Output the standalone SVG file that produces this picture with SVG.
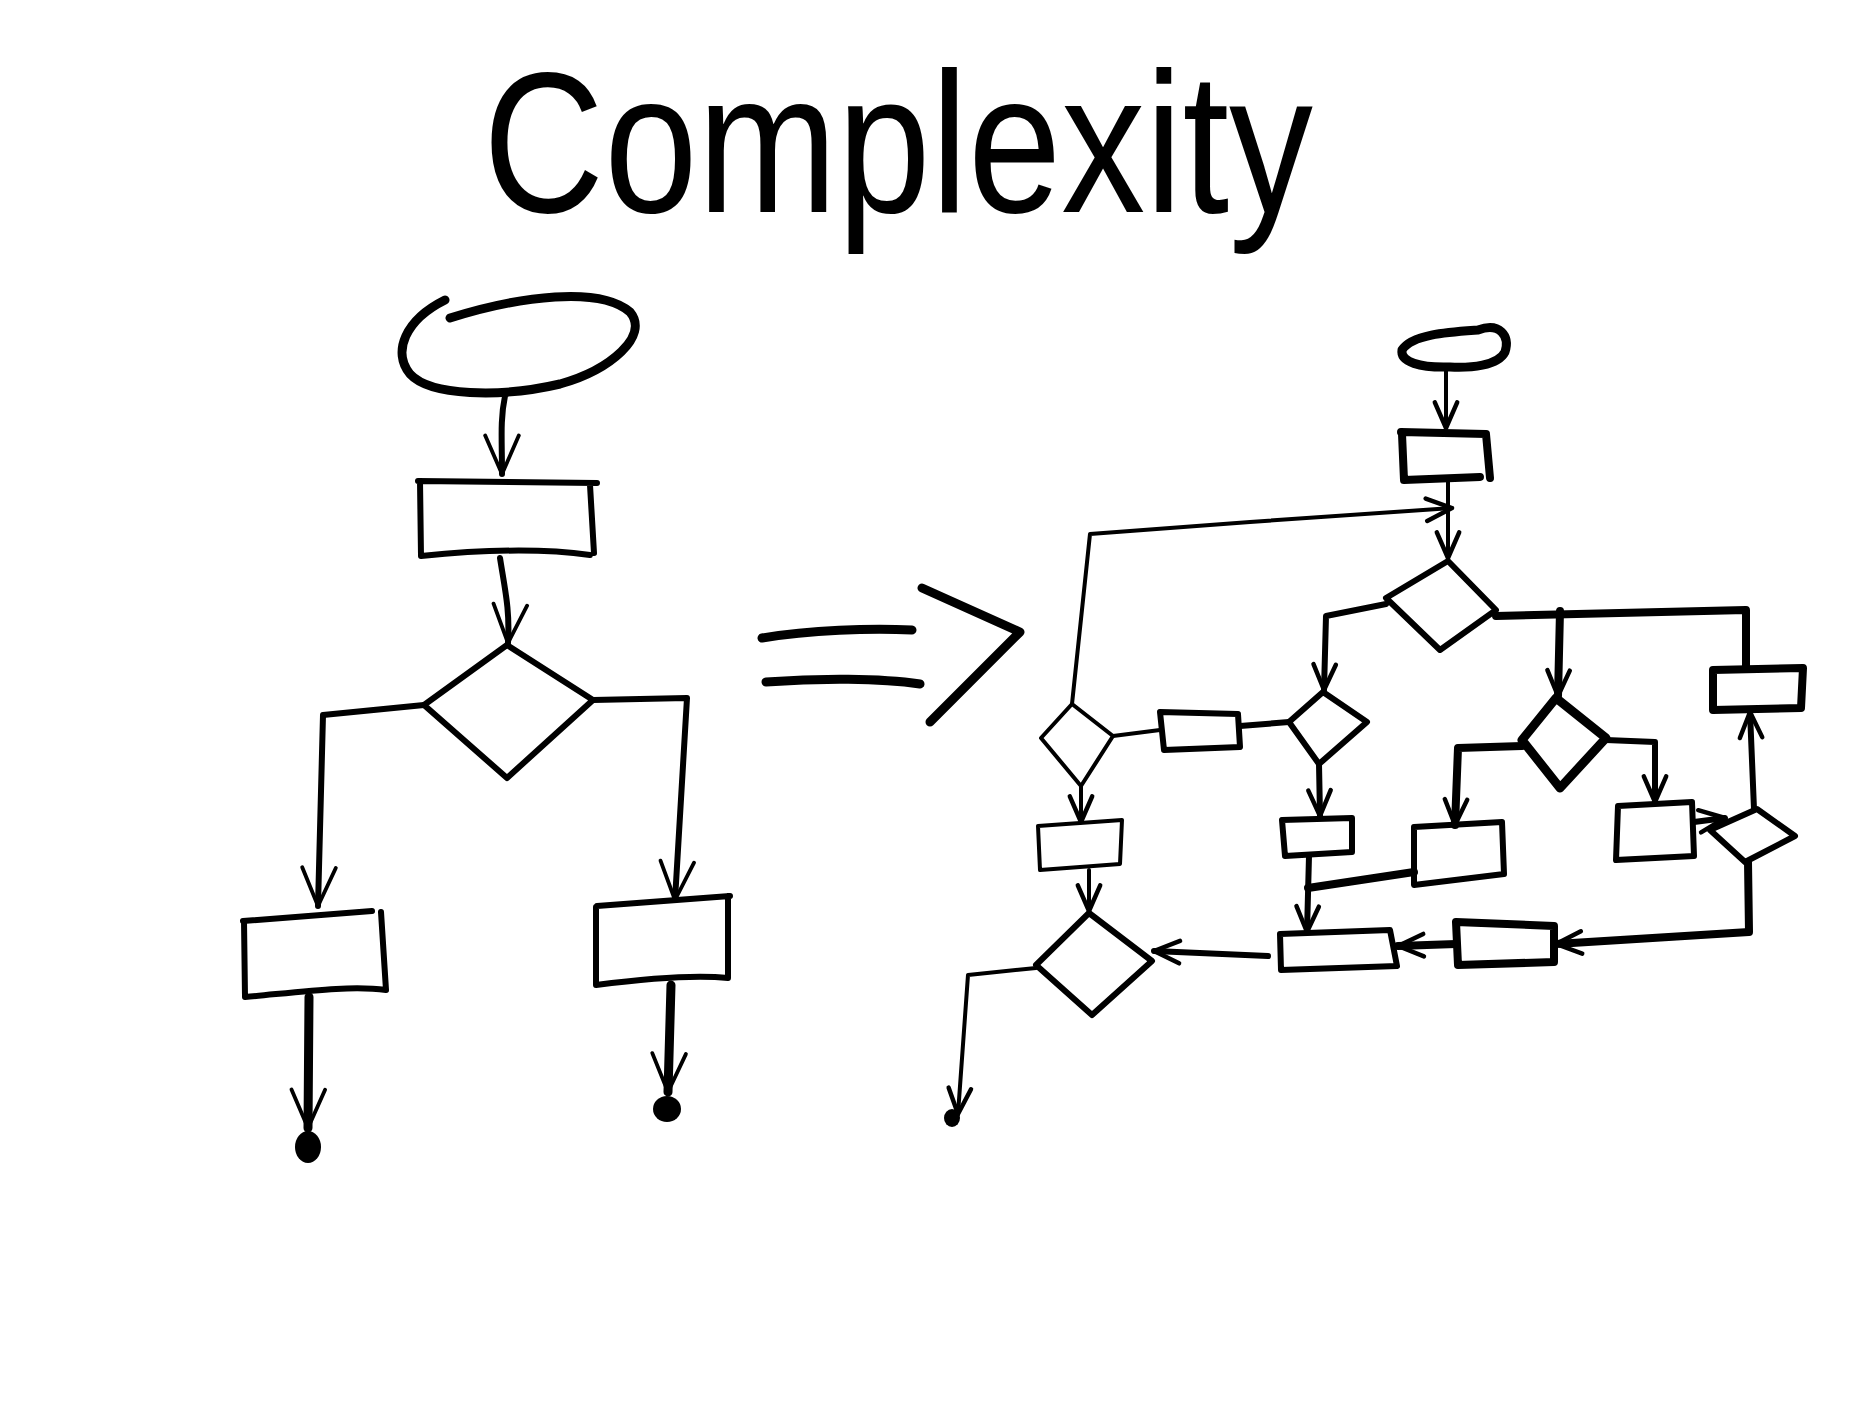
<svg xmlns="http://www.w3.org/2000/svg" width="1872" height="1404" viewBox="0 0 1872 1404">
<style>
.s{fill:none;stroke:#000;stroke-linecap:round;stroke-linejoin:round}
.n{fill:none;stroke:#000;stroke-width:6;stroke-linecap:round;stroke-linejoin:round}
.t{fill:none;stroke:#000;stroke-width:9;stroke-linecap:round;stroke-linejoin:round}
.c{fill:none;stroke:#000;stroke-width:4;stroke-linecap:round;stroke-linejoin:round}
.ct{fill:none;stroke:#000;stroke-width:8;stroke-linecap:round;stroke-linejoin:round}
.dot{fill:#000}
.title{font-family:"Liberation Sans",Arial,sans-serif;font-size:200px;fill:#000}
</style>
<defs>
<marker id="aL" viewBox="0 0 20 20" refX="18" refY="10" markerWidth="48" markerHeight="48" markerUnits="userSpaceOnUse" orient="auto">
<path d="M2,3 L18,10 L2,17" fill="none" stroke="#000" stroke-width="1.6" stroke-linecap="round" stroke-linejoin="round"/>
</marker>
<marker id="aS" viewBox="0 0 20 20" refX="18" refY="10" markerWidth="32" markerHeight="32" markerUnits="userSpaceOnUse" orient="auto">
<path d="M2,3 L18,10 L2,17" fill="none" stroke="#000" stroke-width="2.8" stroke-linecap="round" stroke-linejoin="round"/>
</marker>
</defs>
<rect width="1872" height="1404" fill="#fff"/>

<text class="title" x="483" y="212" textLength="830" lengthAdjust="spacingAndGlyphs">Complexity</text>

<!-- Left simple flowchart -->
<g id="L-start"><path class="t" d="M450,318 C520,296 600,286 630,312 C650,336 610,370 560,384 C500,398 430,396 410,374 C392,352 405,320 445,300"/></g>
<g id="L-proc1"><path class="n" d="M418,481 L597,483 M420,481 L421,556 M590,485 L594,553 M421,556 C480,550 540,548 590,555"/></g>
<g id="L-decision"><path class="n" d="M507,645 L424,705 L507,778 L593,700 Z"/></g>
<g id="L-proc2"><path class="n" d="M243,921 L372,911 M244,921 L245,997 M381,912 L386,990 M245,997 C300,992 350,985 386,990"/></g>
<g id="L-proc3"><path class="n" d="M597,906 L730,896 M596,907 L596,985 M728,896 L728,978 M596,985 C650,978 700,975 728,978"/></g>
<g id="L-end1"><ellipse class="dot" cx="308" cy="1147" rx="13" ry="16"/></g>
<g id="L-end2"><ellipse class="dot" cx="667" cy="1109" rx="14" ry="13"/></g>

<!-- Arrow "=>" -->
<g id="implies">
<path class="t" d="M762,638 C810,630 870,628 912,630"/>
<path class="t" d="M766,682 C820,678 880,678 920,684"/>
<path class="t" d="M922,588 L1020,632 L930,722"/>
</g>

<!-- Right complex flowchart -->
<g id="R-start"><path class="t" d="M1402,350 C1412,334 1450,332 1478,330 C1500,322 1510,336 1505,352 C1498,366 1470,368 1450,367 C1420,368 1400,362 1402,350 Z"/></g>
<g id="R-proc0"><path class="ct" d="M1401,432 L1486,434 M1402,434 L1404,480 M1486,434 L1490,478 M1404,480 L1480,477"/></g>
<g id="R-dec0"><path class="n" d="M1448,561 L1386,598 L1440,650 L1496,610 Z"/></g>
<g id="R-decA"><path class="c" d="M1072,704 L1041,738 L1081,786 L1113,736 Z"/></g>
<g id="R-procA"><path class="n" d="M1160,712 L1238,714 L1240,747 L1164,750 Z"/></g>
<g id="R-decB"><path class="n" d="M1323,692 L1289,722 L1319,764 L1367,722 Z"/></g>
<g id="R-procB"><path class="n" d="M1282,820 L1352,818 L1352,852 L1285,856 Z"/></g>
<g id="R-procL"><path class="c" d="M1038,826 L1122,820 L1120,864 L1040,870 Z"/></g>
<g id="R-decD"><path class="n" d="M1089,913 L1036,965 L1092,1015 L1152,961 Z"/></g>
<g id="R-procM"><path class="n" d="M1280,934 L1390,930 L1397,966 L1281,970 Z"/></g>
<g id="R-procC"><path class="n" d="M1414,827 L1502,822 L1504,874 L1414,885 Z"/></g>
<g id="R-decC"><path class="t" d="M1556,698 L1522,740 L1560,788 L1606,738 Z"/></g>
<g id="R-procR"><path class="n" d="M1618,806 L1692,802 L1694,856 L1616,860 Z"/></g>
<g id="R-decE"><path class="n" d="M1757,809 L1710,830 L1745,862 L1795,836 Z"/></g>
<g id="R-procTR"><path class="ct" d="M1713,670 L1803,668 L1801,708 L1713,710 Z"/></g>
<g id="R-procBR"><path class="ct" d="M1456,922 L1554,926 L1554,962 L1458,965 Z"/></g>
<g id="R-end"><ellipse class="dot" cx="952" cy="1118" rx="8" ry="9"/></g>

<g id="connectors">
<!-- left chart -->
<path class="n" d="M505,396 C500,420 502,440 502,474" marker-end="url(#aL)"/>
<path class="n" d="M500,558 C505,590 510,610 508,643" marker-end="url(#aL)"/>
<path class="n" d="M424,705 L323,715 L318,906" marker-end="url(#aL)"/>
<path class="n" d="M593,700 L687,698 L675,900" marker-end="url(#aL)"/>
<path class="t" d="M309,997 L308,1128" marker-end="url(#aL)"/>
<path class="t" d="M671,985 L668,1092" marker-end="url(#aL)"/>
<!-- right chart -->
<path class="c" d="M1446,370 L1446,428" marker-end="url(#aS)"/>
<path class="c" d="M1448,482 L1448,558" marker-end="url(#aS)"/>
<path class="c" d="M1072,704 L1090,534 L1250,522 L1452,508" marker-end="url(#aS)"/>
<path class="n" d="M1386,604 L1326,616 L1324,690" marker-end="url(#aS)"/>
<path class="ct" d="M1496,616 L1746,610 L1746,668"/>
<path class="ct" d="M1560,611 L1558,696" marker-end="url(#aS)"/>
<path class="c" d="M1113,736 L1160,730"/>
<path class="n" d="M1240,726 L1289,722"/>
<path class="c" d="M1081,786 L1081,822" marker-end="url(#aS)"/>
<path class="n" d="M1319,764 L1320,816" marker-end="url(#aS)"/>
<path class="c" d="M1089,870 L1089,911" marker-end="url(#aS)"/>
<path class="c" d="M1036,968 L968,975 L958,1114" marker-end="url(#aS)"/>
<path class="n" d="M1268,956 L1154,951" marker-end="url(#aS)"/>
<path class="n" d="M1309,856 L1307,932" marker-end="url(#aS)"/>
<path class="ct" d="M1414,872 L1308,888"/>
<path class="ct" d="M1522,746 L1458,748 L1455,825" marker-end="url(#aS)"/>
<path class="n" d="M1606,740 L1655,742 L1655,802" marker-end="url(#aS)"/>
<path class="n" d="M1694,822 L1725,818" marker-end="url(#aS)"/>
<path class="n" d="M1754,809 L1750,712" marker-end="url(#aS)"/>
<path class="ct" d="M1748,862 L1749,932 L1556,944" marker-end="url(#aS)"/>
<path class="ct" d="M1456,944 L1398,946" marker-end="url(#aS)"/>
</g>
</svg>
